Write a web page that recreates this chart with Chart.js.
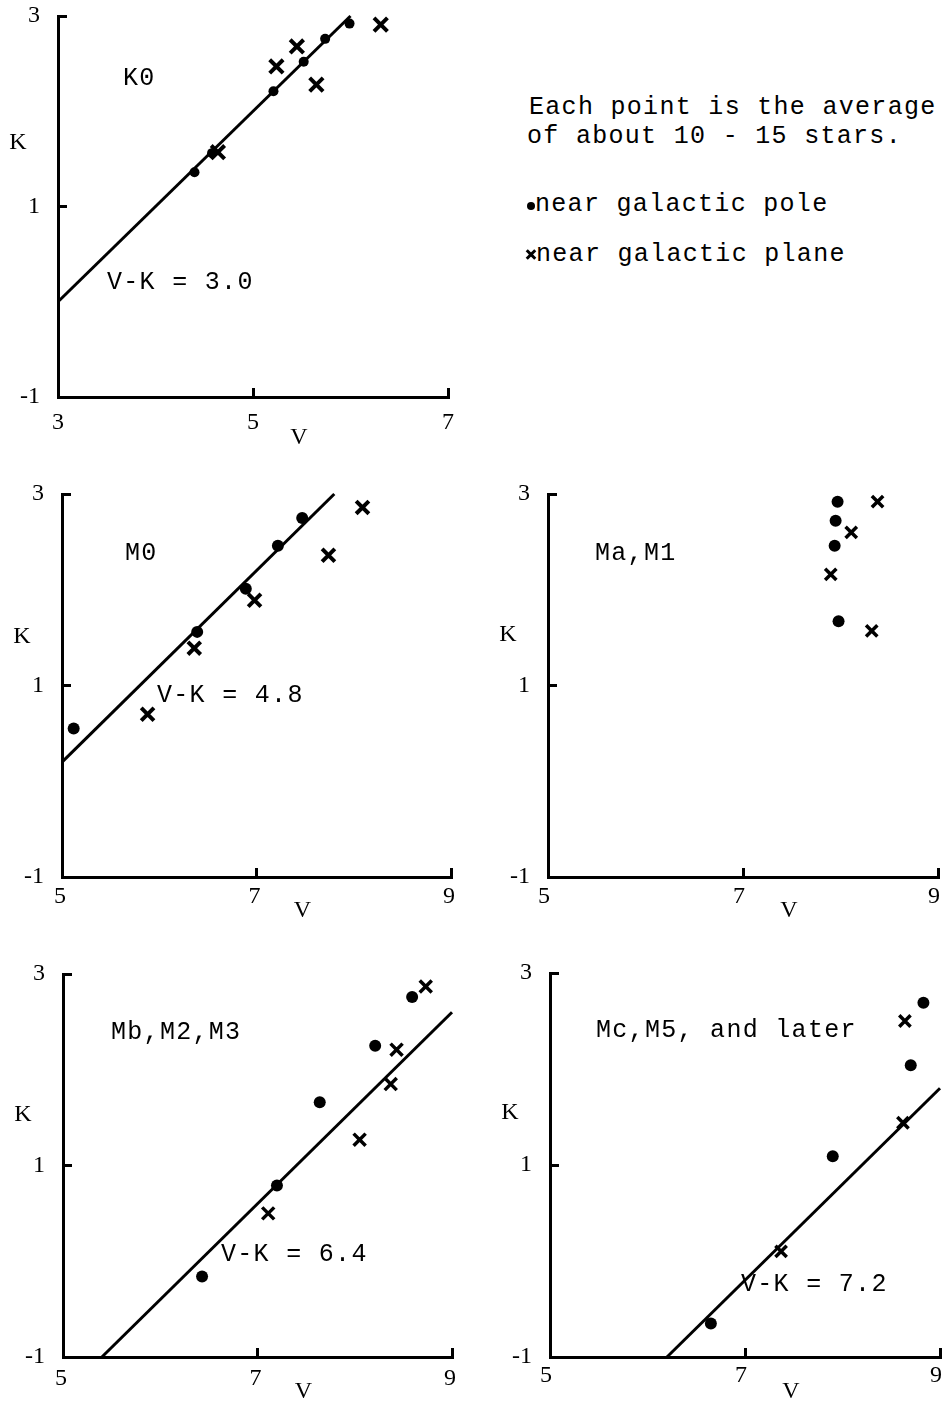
<!DOCTYPE html>
<html>
<head>
<meta charset="utf-8">
<title>K against V for K and M giants</title>
<script src="https://cdn.jsdelivr.net/npm/chart.js@4.4.1/dist/chart.umd.min.js"></script>
<style>
  html, body { margin: 0; padding: 0; background: #fff; width: 943px; height: 1402px; overflow: hidden; }
  canvas { position: absolute; }
  .note { position: absolute; font: 25px "Liberation Mono", monospace; letter-spacing: 1.3px; line-height: 28px; white-space: pre; color: #000; }
  .dot { position: absolute; width: 8px; height: 8px; border-radius: 50%; background: #000; }
  .cross { position: absolute; width: 10px; height: 10px; }
  .cross::before, .cross::after { content: ''; position: absolute; left: -1px; top: 3.5px; width: 12px; height: 3px; background: #000; }
  .cross::before { transform: rotate(45deg); }
  .cross::after { transform: rotate(-45deg); }
</style>
</head>
<body>
<div class="note" style="left:529px;top:94px">Each point is the average</div>
<div class="note" style="left:527px;top:123px">of about 10 - 15 stars.</div>
<div class="dot" style="left:527px;top:202px"></div>
<div class="note" style="left:535px;top:191px">near galactic pole</div>
<div class="cross" style="left:526px;top:249px"></div>
<div class="note" style="left:536px;top:241px">near galactic plane</div>

<script>
// mean V and K per group, [V, K]
const k0Pole   = [[4.40, 1.36], [4.58, 1.56], [5.21, 2.21], [5.52, 2.52], [5.74, 2.76], [5.99, 2.92]];
const k0Plane  = [[4.64, 1.57], [5.24, 2.47], [5.45, 2.68], [5.65, 2.28], [6.31, 2.91]];
const m0Pole   = [[5.12, 0.55], [6.39, 1.56], [6.89, 2.01], [7.22, 2.46], [7.47, 2.75]];
const m0Plane  = [[5.88, 0.70], [6.36, 1.39], [6.98, 1.89], [7.74, 2.36], [8.09, 2.86]];
const m1Pole   = [[7.97, 2.92], [7.95, 2.72], [7.94, 2.46], [7.98, 1.67]];
const m1Plane  = [[8.38, 2.92], [8.11, 2.60], [7.90, 2.16], [8.32, 1.57]];
const m3Pole   = [[6.43, -0.16], [7.20, 0.79], [7.64, 1.66], [8.21, 2.25], [8.59, 2.76]];
const m3Plane  = [[7.11, 0.50], [8.05, 1.27], [8.37, 1.85], [8.43, 2.21], [8.73, 2.87]];
const m5Pole   = [[6.65, -0.65], [7.90, 1.09], [8.70, 2.04], [8.83, 2.69]];
const m5Plane  = [[7.37, 0.10], [8.62, 1.44], [8.64, 2.50]];

const classes = ['K0', 'M0', 'Ma,M1', 'Mb,M2,M3', 'Mc,M5, and later'];
const fitVK   = [3.0, 4.8, null, 6.4, 7.2];   // colour of the fitted line, K = V - (V-K)
const kTicks  = [-1, 1, 3];
const vTicksK = [3, 5, 7];
const vTicksM = [5, 7, 9];

// room round each plot area inside its canvas (tick padding counts into it)
const PADL = 58, PADT = 46, PADR = 32, PADB = 50;
const PITCH = 16.3;   // typewriter pitch

// area = [left, top, right, bottom] on the page; label spots are page pixels
const panels = [
  { area: [58, 16, 448, 397],  vTicks: vTicksK, pole: k0Pole, plane: k0Plane,
    name: [125, 77],  fitAt: [109, 281], kDy: 127, vDy: 41, xPad: 20, xShift: 0, dotR: 5, crossR: 9.5, crossW: 4 },
  { area: [62, 494, 451, 877], vTicks: vTicksM, pole: m0Pole, plane: m0Plane,
    name: [127, 552], fitAt: [159, 694], kDy: 143, vDy: 34, xPad: 14, xShift: -2, dotR: 6, crossR: 9, crossW: 4 },
  { area: [548, 494, 938, 877], vTicks: vTicksM, pole: m1Pole, plane: m1Plane,
    name: [597, 552], fitAt: null, kDy: 141, vDy: 34, xPad: 14, xShift: -4, dotR: 6, crossR: 8, crossW: 3.5 },
  { area: [63, 974, 452, 1357], vTicks: vTicksM, pole: m3Pole, plane: m3Plane,
    name: [113, 1031], fitAt: [223, 1253], kDy: 141, vDy: 35, xPad: 16, xShift: -2, dotR: 6, crossR: 8.5, crossW: 3.5 },
  { area: [550, 973, 940, 1357], vTicks: vTicksM, pole: m5Pole, plane: m5Plane,
    name: [598, 1029], fitAt: [743, 1283], kDy: 140, vDy: 35, xPad: 13, xShift: -4, dotR: 6, crossR: 8, crossW: 3.5 }
];

function typeText(ctx, text, x, y) {
  for (let i = 0; i < text.length; i++) ctx.fillText(text[i], x + i * PITCH, y);
}

function toPoints(pairs) {
  return pairs.map(p => ({ x: p[0], y: p[1] }));
}

panels.forEach((p, i) => {
  const [l, t, r, b] = p.area;
  const ox = l - PADL, oy = t - PADT;
  const cv = document.createElement('canvas');
  cv.width = r - l + PADL + PADR;
  cv.height = b - t + PADT + PADB;
  cv.style.left = ox + 'px';
  cv.style.top = oy + 'px';
  document.body.appendChild(cv);

  const vMin = p.vTicks[0], vMax = p.vTicks[p.vTicks.length - 1];
  const datasets = [];
  const c = fitVK[i];
  if (c !== null) {
    const v0 = Math.max(vMin, c - 1), v1 = Math.min(vMax, c + 3);
    datasets.push({
      data: [{ x: v0, y: v0 - c }, { x: v1, y: v1 - c }],
      showLine: true, borderColor: '#000', borderWidth: 3, pointRadius: 0, clip: false
    });
  }
  datasets.push({
    data: toPoints(p.pole), pointStyle: 'circle', pointRadius: p.dotR,
    pointBackgroundColor: '#000', pointBorderWidth: 0, clip: false
  });
  datasets.push({
    data: toPoints(p.plane), pointStyle: 'crossRot', pointRadius: p.crossR,
    pointBorderColor: '#000', pointBorderWidth: p.crossW, clip: false
  });

  // typed labels and the K / V axis names
  const labels = {
    id: 'labels' + i,
    afterDatasetsDraw(chart) {
      const ctx = chart.ctx, a = chart.chartArea;
      ctx.save();
      ctx.fillStyle = '#000';
      ctx.font = '25px "Liberation Mono"';
      ctx.textAlign = 'left';
      ctx.textBaseline = 'alphabetic';
      typeText(ctx, classes[i], p.name[0] - ox - 2, p.name[1] - oy + 8);
      if (p.fitAt) typeText(ctx, 'V-K = ' + c.toFixed(1), p.fitAt[0] - ox - 2, p.fitAt[1] - oy + 8);
      ctx.font = '24px "Liberation Serif"';
      ctx.textAlign = 'center';
      ctx.textBaseline = 'middle';
      ctx.fillText('K', a.left - 40, a.top + p.kDy);
      ctx.fillText('V', (a.left + a.right) / 2 + 46, a.bottom + p.vDy);
      ctx.restore();
    }
  };

  const tickFont = { family: 'Liberation Serif', size: 24 };
  const grid = { drawOnChartArea: false, drawTicks: true, tickLength: -9, tickWidth: 3, tickColor: '#000', color: '#000' };

  new Chart(cv, {
    type: 'scatter',
    data: { datasets },
    options: {
      responsive: false,
      animation: false,
      events: [],
      layout: { padding: { top: PADT, right: PADR, left: 0, bottom: 0 } },
      plugins: { legend: { display: false }, tooltip: { enabled: false } },
      scales: {
        x: {
          type: 'linear', min: vMin, max: vMax,
          afterBuildTicks: s => { s.ticks = p.vTicks.map(v => ({ value: v })); },
          afterFit: s => { s.height = PADB; },
          border: { color: '#000', width: 3 },
          grid,
          ticks: { color: '#000', font: tickFont, padding: p.xPad, labelOffset: p.xShift, maxRotation: 0, autoSkip: false }
        },
        y: {
          type: 'linear', min: kTicks[0], max: kTicks[kTicks.length - 1],
          afterBuildTicks: s => { s.ticks = kTicks.map(v => ({ value: v })); },
          afterFit: s => { s.width = PADL; },
          border: { color: '#000', width: 3 },
          grid,
          ticks: { color: '#000', font: tickFont, padding: 27, autoSkip: false }
        }
      }
    },
    plugins: [labels]
  });
});
</script>
</body>
</html>
